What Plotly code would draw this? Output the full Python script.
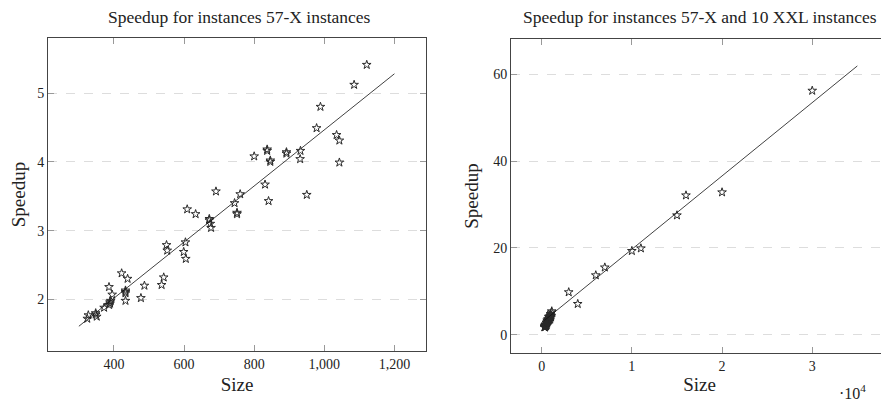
import plotly.graph_objects as go

# ---- data ----
size_57x = [1121, 1085, 989, 978, 1035, 1043, 837, 800, 892, 932, 931, 846, 1043, 831,
            841, 950, 691, 760, 744, 751, 609, 633, 672, 675, 677, 604, 550, 552, 599,
            605, 422, 439, 386, 395, 433, 433, 433, 487, 477, 542, 536, 391, 389, 386,
            372, 348, 351, 327, 324, 892, 837, 846, 751, 672, 389, 433, 348]
speedup_57x = [5.41, 5.12, 4.80, 4.49, 4.39, 4.31, 4.16, 4.08, 4.12, 4.16, 4.04, 4.00, 3.99, 3.67,
               3.43, 3.52, 3.57, 3.53, 3.40, 3.24, 3.31, 3.24, 3.15, 3.10, 3.04, 2.83, 2.79, 2.71, 2.69,
               2.59, 2.38, 2.30, 2.18, 2.07, 2.13, 2.09, 1.98, 2.20, 2.02, 2.32, 2.21, 1.98, 1.94, 1.92,
               1.88, 1.78, 1.75, 1.77, 1.72, 4.14, 4.18, 4.02, 3.26, 3.17, 1.96, 2.11, 1.80]

size_xxl = [3000, 4000, 6000, 7000, 10000, 11000, 15000, 16000, 20000, 30000]
speedup_xxl = [9.8, 7.1, 13.7, 15.5, 19.3, 19.9, 27.5, 32.1, 32.8, 56.2]

fit_left_x = [300, 1200]
fit_left_y = [1.61, 5.28]
fit_right_x = [300, 35000]
fit_right_y = [3.3, 61.9]

left_xticks = [400, 600, 800, 1000, 1200]
left_xticktext = ["400", "600", "800", "1,000", "1,200"]
left_yticks = [2, 3, 4, 5]
right_xticks = [0, 10000, 20000, 30000]
right_xticktext = ["0", "1", "2", "3"]
right_yticks = [0, 20, 40, 60]

FONT = "Liberation Serif"
MARK = dict(symbol="star-open", size=6.5, color="#2a2a2a", line=dict(width=1, color="#2a2a2a"))
LINE = dict(color="#111111", width=0.8)

# The page body has an 8px default margin, so the figure is drawn 8px in.
W, H, OFF = 881, 394, 8


def fx(px):
    return (px - OFF) / W


def fy(py):
    return 1 - (py - OFF) / H


fig = go.Figure()
fig.add_trace(go.Scatter(x=size_57x, y=speedup_57x, mode="markers", marker=MARK,
                         xaxis="x", yaxis="y", showlegend=False))
fig.add_trace(go.Scatter(x=fit_left_x, y=fit_left_y, mode="lines", line=LINE,
                         xaxis="x", yaxis="y", showlegend=False))
fig.add_trace(go.Scatter(x=size_57x + size_xxl, y=speedup_57x + speedup_xxl, mode="markers",
                         marker=MARK, xaxis="x2", yaxis="y2", showlegend=False))
fig.add_trace(go.Scatter(x=fit_right_x, y=fit_right_y, mode="lines", line=LINE,
                         xaxis="x2", yaxis="y2", showlegend=False))

axis_common = dict(showline=True, linecolor="#444444", linewidth=1, mirror="allticks",
                   ticks="inside", ticklen=6, tickcolor="#999999", tickwidth=1,
                   zeroline=False, tickfont=dict(family=FONT, size=14, color="#222222"),
                   title_font=dict(family=FONT, size=19, color="#222222"))

fig.update_layout(
    width=W, height=H, margin=dict(l=0, r=0, t=0, b=0),
    paper_bgcolor="white", plot_bgcolor="white",
    font=dict(family=FONT, color="#222222"),
    xaxis=dict(domain=[fx(48), fx(426)], range=[212, 1290], anchor="y",
               tickvals=left_xticks, ticktext=left_xticktext, showgrid=False,
               title=dict(text="Size", standoff=6), **axis_common),
    yaxis=dict(domain=[fy(351), fy(38)], range=[1.25, 5.80], anchor="x",
               tickvals=left_yticks, showgrid=True, gridcolor="#dddddd", griddash="dash",
               gridwidth=1, title=dict(text="Speedup", standoff=13), **axis_common),
    xaxis2=dict(domain=[fx(511), fx(888)], range=[-3400, 38400], anchor="y2",
                tickvals=right_xticks, ticktext=right_xticktext, showgrid=False,
                title=dict(text="Size", standoff=4), **axis_common),
    yaxis2=dict(domain=[fy(353), fy(39)], range=[-4.2, 68.1], anchor="x2",
                tickvals=right_yticks, showgrid=True, gridcolor="#dddddd", griddash="dash",
                gridwidth=1, title=dict(text="Speedup", standoff=9), **axis_common),
    annotations=[
        dict(text="Speedup for instances 57-X instances", x=fx(239), y=fy(17),
             xref="paper", yref="paper", showarrow=False, xanchor="center", yanchor="middle",
             font=dict(family=FONT, size=17.5, color="#222222")),
        dict(text="Speedup for instances 57-X and 10 XXL instances", x=fx(700), y=fy(17),
             xref="paper", yref="paper", showarrow=False, xanchor="center", yanchor="middle",
             font=dict(family=FONT, size=17.5, color="#222222")),
        dict(text="·10<sup>4</sup>", x=fx(852), y=fy(402), yshift=-2,
             xref="paper", yref="paper", showarrow=False, xanchor="center", yanchor="bottom",
             font=dict(family=FONT, size=16, color="#222222")),
    ],
)

fig.write_html("out.html")
